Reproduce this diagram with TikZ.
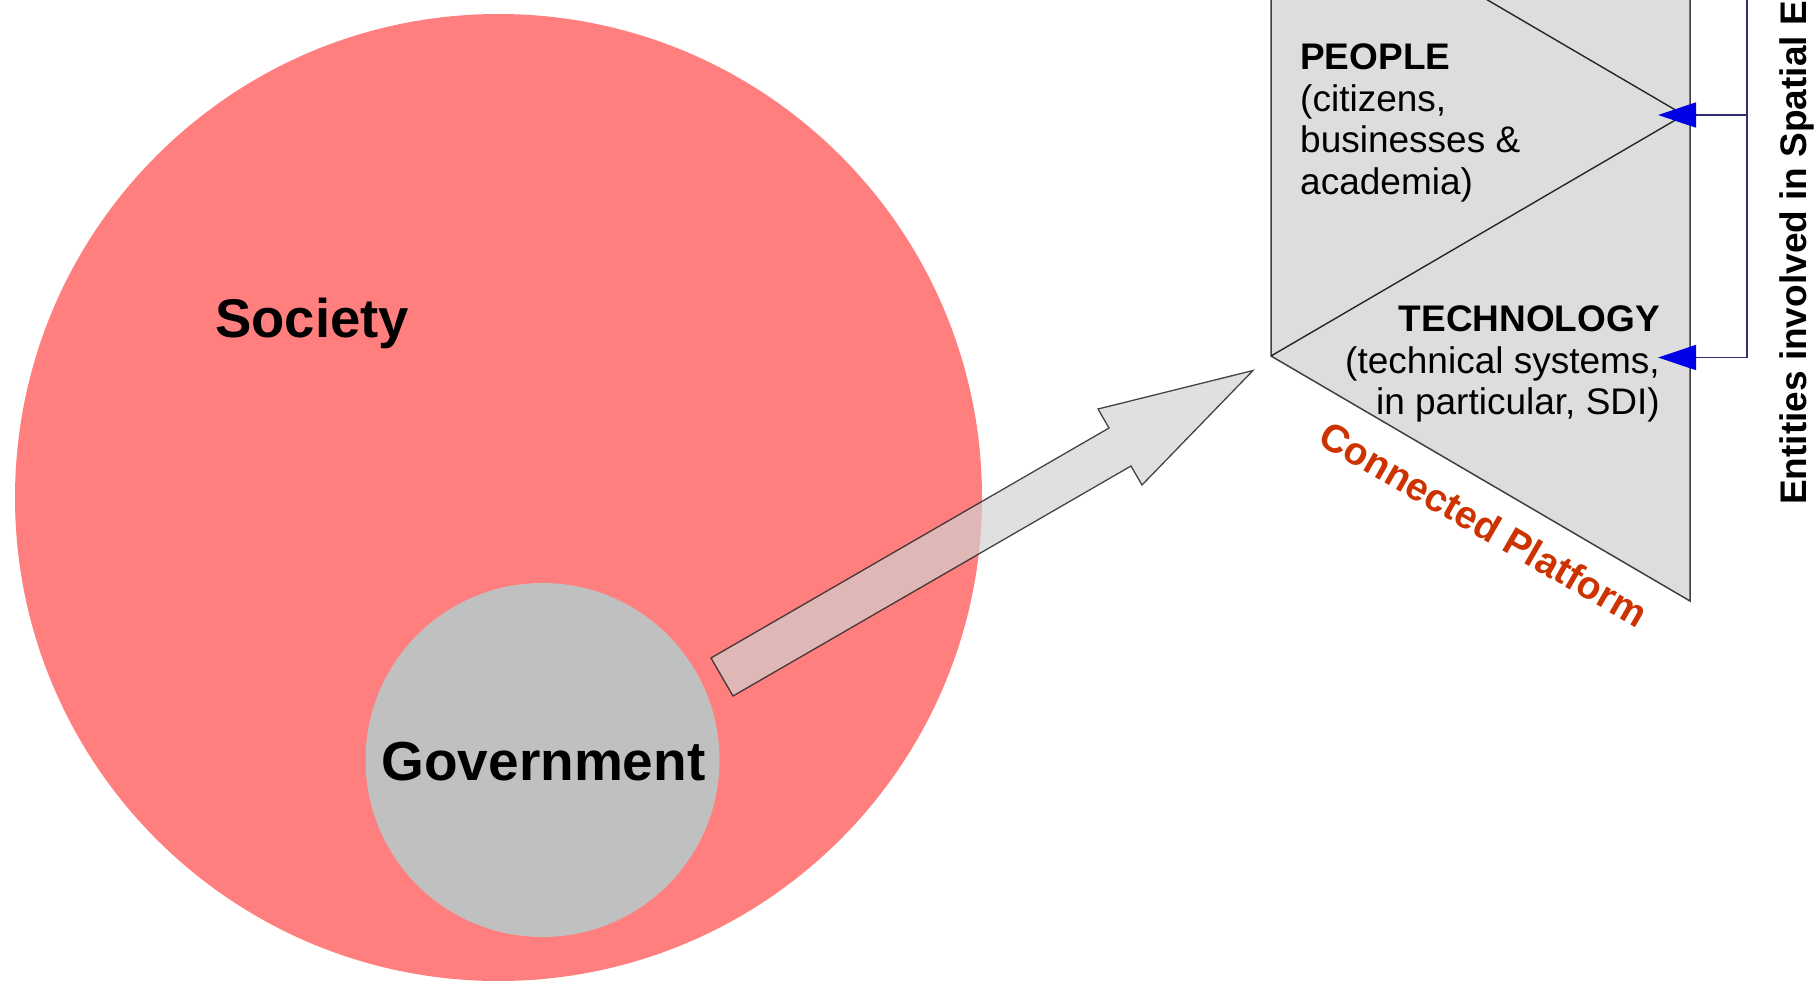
\documentclass[tikz,border=0pt]{standalone}
\usepackage{fontspec}
\setmainfont{Liberation Sans}
\usetikzlibrary{arrows.meta}
\definecolor{societyred}{HTML}{FF7F7F}
\definecolor{govgray}{HTML}{C0C0C0}
\definecolor{platgray}{HTML}{DDDDDD}
\definecolor{arrowgray}{HTML}{D2D2D2}
\definecolor{cpred}{HTML}{CC3300}
\definecolor{linkblue}{HTML}{2E2E70}
\definecolor{tipblue}{HTML}{0000E6}
\begin{document}
\begin{tikzpicture}[x=1pt,y=-1pt,
  bigcircle/.style={circle, inner sep=0pt, draw=none},
  biglabel/.style={inner sep=0pt, font=\bfseries\fontsize{55}{64}\selectfont},
  blockarrow/.style={fill=arrowgray, fill opacity=0.68, draw=black!85, draw opacity=0.85, line width=1.3pt, line join=miter},
  platform/.style={fill=platgray, draw=black!75, line width=1.5pt},
  zigline/.style={draw=black!85, line width=1.4pt},
  bodytext/.style={inner sep=0pt, font=\fontsize{37}{41.5}\selectfont},
  link/.style={draw=linkblue, line width=1.4pt},
  bluetip/.style={-{Triangle[length=38pt,width=25pt,color=tipblue]}}
]
\useasboundingbox (0,0) rectangle (1820,980);
\clip (0,0) rectangle (1820,980);

% Society and Government circles
\node[bigcircle, fill=societyred, minimum size=967pt] (society) at (498.5,497.5) {};
\node[bigcircle, fill=govgray, minimum size=354pt] (gov) at (542.5,760) {};
\node[biglabel, anchor=base west, font=\bfseries\fontsize{54.5}{64}\selectfont] (societylbl) at (215,337) {Society};
\node[biglabel, anchor=base] (govlbl) at (543.5,780) {Government};

% Connected platform shape
\filldraw[platform] (1271,-5) -- (1271,356) -- (1690,601) -- (1690,-5) -- cycle;
\coordinate (ptop) at (1479,-5);
\coordinate (pright) at (1684,115);
\coordinate (pvert) at (1271,356);
\draw[zigline] (ptop) -- (pright) -- (pvert);

% Block arrow
\filldraw[blockarrow] (711,658) -- (1109,428) -- (1098,409) -- (1253,370.5)
   -- (1142,485) -- (1131,466) -- (733,696) -- cycle;

% Texts inside platform
\node[bodytext, anchor=north west, align=left] (people) at (1300,43.5)
  {\textbf{PEOPLE}\\(citizens,\\businesses \&\\academia)};
\node[bodytext, anchor=north east, align=right] (tech) at (1660,305.5)
  {\textbf{TECHNOLOGY}\\(technical systems,\\in particular, SDI)};
\node[rotate=-30, text=cpred, inner sep=0pt, font=\bfseries\fontsize{39}{45}\selectfont] (cp) at (1484,524) {Connected Platform};

% Blue bracket connector
\coordinate (bustop) at (1747,-5);
\coordinate (busmid) at (1747,115);
\coordinate (busbot) at (1747,357.5);
\coordinate (tipP) at (1658,115);
\coordinate (tipT) at (1658,357.5);
\draw[link, bluetip] (bustop) -- (busbot) -- (tipT);
\draw[link, bluetip] (busmid) -- (tipP);

% Vertical label
\node[rotate=90, anchor=base west, inner sep=0pt, font=\bfseries\fontsize{37}{44}\selectfont] (entities) at (1806,505) {Entities involved in Spatial E};
\end{tikzpicture}
\end{document}
